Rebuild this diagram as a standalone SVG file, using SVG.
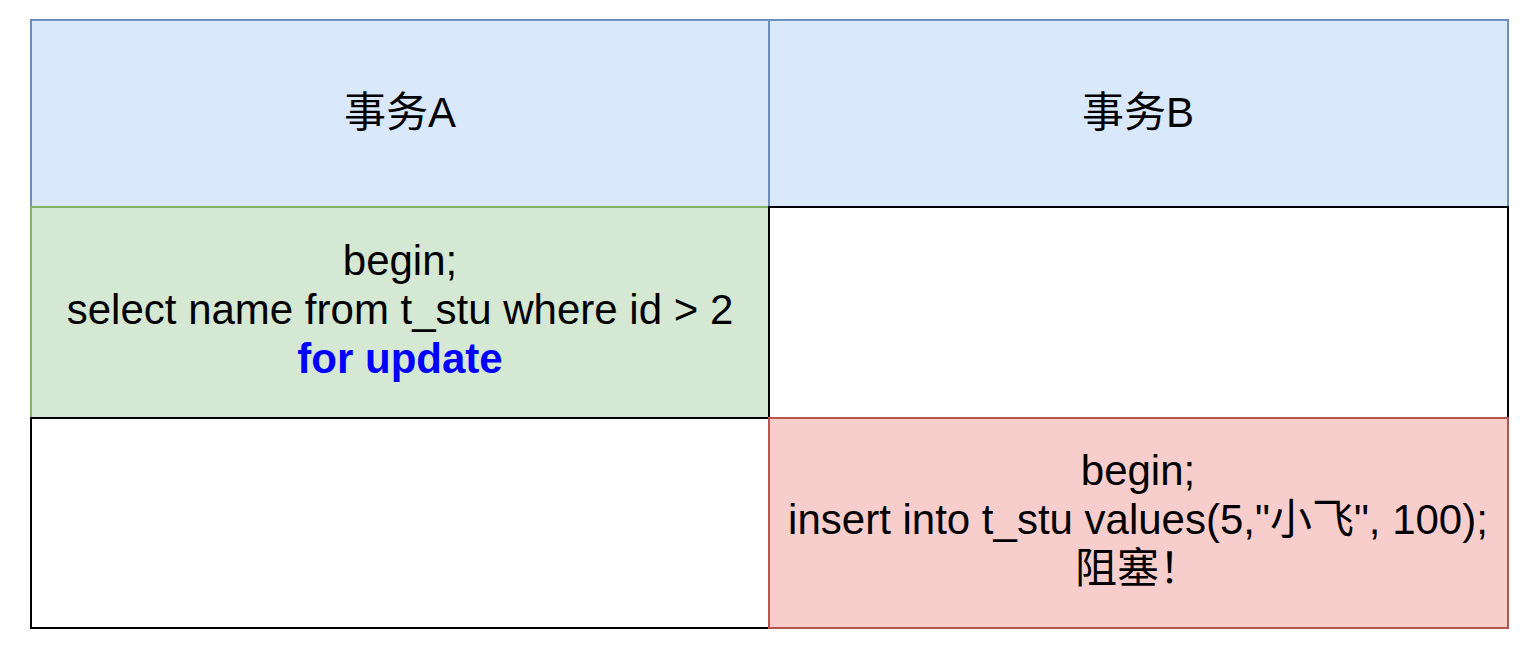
<svg xmlns="http://www.w3.org/2000/svg" width="1522" height="645" viewBox="0 0 1522 645">
<style>
.t{font-family:"Liberation Sans","Noto Sans CJK SC",sans-serif;font-size:42px;fill:#000;text-anchor:middle}
.b{font-weight:bold;fill:#0000ff}
.cell{stroke-width:2}
</style>
<rect width="1522" height="645" fill="#ffffff"/>
<g id="headerA">
<rect class="cell" x="31" y="20" width="738" height="187" fill="#dae8fc" stroke="#6c8ebf"/>
<text class="t" x="400" y="127">事务A</text>
</g>
<g id="headerB">
<rect class="cell" x="769" y="20" width="739" height="187" fill="#dae8fc" stroke="#6c8ebf"/>
<text class="t" x="1138" y="127">事务B</text>
</g>
<g id="stepA1">
<rect class="cell" x="31" y="207" width="738" height="211" fill="#d5e8d4" stroke="#82b366"/>
<text class="t" x="400" y="275">begin;</text>
<text class="t" x="400" y="324">select name from t_stu where id &gt; 2</text>
<text class="t b" x="400" y="373">for update</text>
</g>
<g id="stepB1">
<rect class="cell" x="769" y="207" width="739" height="211" fill="#ffffff" stroke="#000000"/>
</g>
<g id="stepA2">
<rect class="cell" x="31" y="418" width="738" height="210" fill="#ffffff" stroke="#000000"/>
</g>
<g id="stepB2">
<rect class="cell" x="769" y="418" width="739" height="210" fill="#f8cecc" stroke="#b85450"/>
<text class="t" x="1138" y="485">begin;</text>
<text class="t" x="1138" y="534">insert into t_stu values(5,"小飞", 100);</text>
<text class="t" x="1138" y="583">阻塞！</text>
</g>
<g id="connectors"></g>
</svg>
